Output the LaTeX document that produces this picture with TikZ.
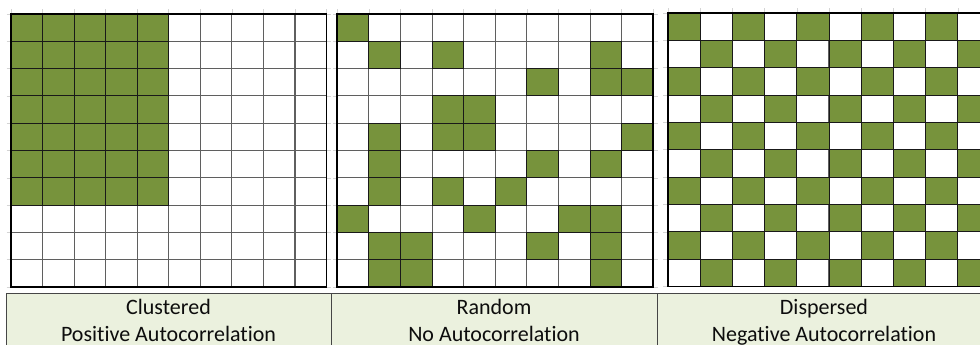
\documentclass[tikz,border=0pt]{standalone}
\usepackage{fontspec}
\setmainfont{Carlito}[Ligatures=NoCommon]
\usetikzlibrary{positioning}
\definecolor{cellgreen}{RGB}{119,147,60}
\definecolor{gridgray}{RGB}{95,95,95}
\definecolor{sheetgray}{RGB}{212,212,212}
\definecolor{captionbg}{RGB}{235,241,222}
\definecolor{captionline}{RGB}{70,70,70}

% one 10x10 sheet: faint sheet lines, gray cell lines, frame
\newcommand{\sheetgrid}{%
  \foreach \k in {0,...,10} {
    \draw[sheetgray,line width=0.6pt] (\k,-0.18) -- (\k,0);
    \draw[sheetgray,line width=0.6pt] (-0.14,\k) -- (0,\k);
    \draw[sheetgray,line width=0.6pt] (10,\k) -- (10.14,\k);
    \draw[gridgray,line width=1.1pt] (\k,0) -- (\k,10);
    \draw[gridgray,line width=1.1pt] (0,\k) -- (10,\k);
  }
}
\newcommand{\sheetframe}{\draw[black,line width=1.8pt] (0,0) rectangle (10,10);}

\begin{document}
\begin{tikzpicture}[x=1pt,y=-1pt,
  greencell/.style={fill=cellgreen,draw=black!90,line width=0.9pt},
  captext/.style={anchor=base,inner sep=0pt,font=\fontsize{22}{26}\selectfont,text=black!95}]
\useasboundingbox (0,0) rectangle (980,345);
\clip (0,0) rectangle (980,345);
\fill[white] (0,0) rectangle (980,345);

% LEFT: clustered
\begin{scope}[shift={(11,14)},x=31.55pt,y=-27.3pt]
  \sheetgrid
  \foreach \r in {0,...,6}
    \foreach \c in {0,...,4}
      \draw[greencell] (\c,\r) rectangle ++(1,1);
  \sheetframe
\end{scope}

% MIDDLE: random
\begin{scope}[shift={(337.3,14)},x=31.6pt,y=-27.3pt]
  \sheetgrid
  \foreach \c/\r in {0/0, 1/1,3/1,8/1, 6/2,8/2,9/2, 3/3,4/3,
                     1/4,3/4,4/4,9/4, 1/5,6/5,8/5, 1/6,3/6,5/6,
                     0/7,4/7,7/7,8/7, 1/8,2/8,6/8,8/8, 1/9,2/9,8/9}
    \draw[greencell] (\c,\r) rectangle ++(1,1);
  \sheetframe
\end{scope}

% RIGHT: dispersed (checkerboard)
\begin{scope}[shift={(668,13)},x=32.2pt,y=-27.35pt]
  \sheetgrid
  \foreach \r in {0,...,9}
    \foreach \c in {0,...,9} {
      \pgfmathparse{int(mod(\r+\c,2))}
      \ifnum\pgfmathresult=0
        \draw[greencell] (\c,\r) rectangle ++(1,1);
      \fi
    }
  \sheetframe
\end{scope}

% caption bar
\draw[captionline,fill=captionbg,line width=0.8pt] (6.5,293) rectangle (995,360);
\draw[captionline,line width=0.8pt] (331,293) -- (331,360);
\draw[captionline,line width=0.8pt] (657,293) -- (657,360);

\node[captext] (clustered) at (168.5,314.7) {Clustered};
\node[captext] (positive) at (168.5,341.5) {Positive Autocorrelation};
\node[captext] (random) at (494,314.7) {Random};
\node[captext] (noauto) at (494,341.5) {No Autocorrelation};
\node[captext] (dispersed) at (824,314.7) {Dispersed};
\node[captext] (negative) at (824,341.5) {Negative Autocorrelation};
\end{tikzpicture}
\end{document}
